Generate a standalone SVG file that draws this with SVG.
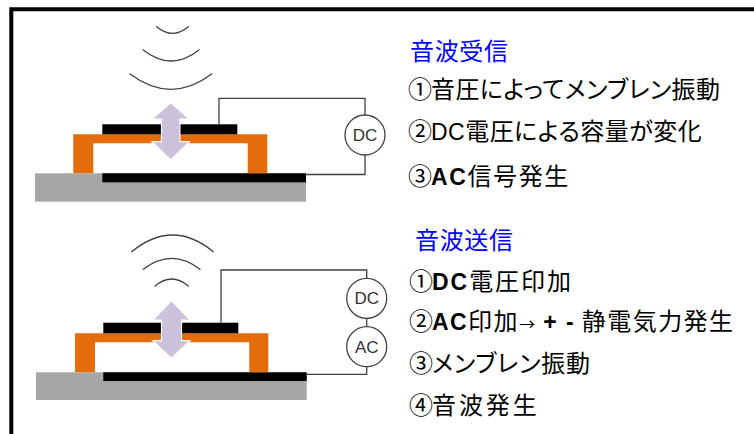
<svg xmlns="http://www.w3.org/2000/svg" width="754" height="434" viewBox="0 0 754 434">
  <style>
    .sub { fill: #a6a6a6; }
    .elec { fill: #000000; }
    .frame { fill: #e46c0a; }
    .arrow { fill: #ccc1da; stroke: #ffffff; stroke-width: 1.2; }
    .wave { fill: none; stroke: #404040; stroke-width: 1.3; stroke-linecap: round; }
    .wire { fill: none; stroke: #404040; stroke-width: 1.3; }
    .src { fill: #ffffff; stroke: #404040; stroke-width: 1.3; }
    .srctxt { font-family: "Liberation Sans", Arial, sans-serif; font-size: 17px; fill: #333333; text-anchor: middle; }
    .title { font-family: "Noto Sans CJK JP", sans-serif; font-size: 24px; fill: #0000ff; }
    .item { font-family: "Noto Sans CJK JP", sans-serif; font-size: 24px; fill: #000000; font-feature-settings: "palt"; }
    .num { font-family: "Noto Sans CJK JP", sans-serif; font-size: 24px; fill: #000000; }
    .lat { font-family: "Liberation Sans", Arial, sans-serif; font-size: 23px; }
    .b { font-weight: bold; }
  </style>

  <!-- outer frame: top and left edges -->
  <g id="frame">
    <path d="M11.3,434 V9.3 H754" fill="none" stroke="#000000" stroke-width="4"/>
  </g>

  <!-- receiving transducer -->
  <g id="device-receive">
    <rect class="sub" x="35" y="173.3" width="271" height="28.4"/>
    <rect class="elec" x="102.3" y="173.3" width="203.7" height="9"/>
    <path class="frame" d="M73.3,134.3 H267.3 V173.3 H247.7 V143.3 H93.3 V173.3 H73.3 Z"/>
    <rect class="elec" x="102.3" y="124.3" width="135" height="10"/>
    <polygon class="arrow" points="170.7,102.7 189.5,119 179.9,119 179.9,141.7 189.5,141.7 170.7,160 151.9,141.7 161.5,141.7 161.5,119 151.9,119"/>
  </g>

  <!-- incoming sound waves -->
  <g id="waves-receive">
    <path class="wave" d="M156.7,26.7 Q172.5,40 188.3,26.7"/>
    <path class="wave" d="M143.3,50 Q171,72 199,50"/>
    <path class="wave" d="M130,74 Q171,104.6 211.7,74"/>
  </g>

  <g id="dc-receive">
    <circle class="src" cx="365" cy="135" r="20"/>
    <text class="srctxt" x="365" y="141">DC</text>
  </g>

  <!-- transmitting transducer -->
  <g id="device-send">
    <rect class="sub" x="36" y="372.3" width="270.7" height="27.7"/>
    <rect class="elec" x="103.3" y="372.3" width="203.4" height="8.7"/>
    <path class="frame" d="M75,333.3 H268.3 V372.3 H249.3 V342.3 H95 V372.3 H75 Z"/>
    <rect class="elec" x="103.3" y="322.7" width="135" height="10.6"/>
    <polygon class="arrow" points="171.5,300.7 190.2,320 181.5,320 181.5,340.7 190.2,340.7 171.5,358.3 152.8,340.7 161.5,340.7 161.5,320 152.8,320"/>
  </g>

  <!-- outgoing sound waves -->
  <g id="waves-send">
    <path class="wave" d="M131.7,251.7 Q172.5,218.3 213.3,251.7"/>
    <path class="wave" d="M143.3,269.3 Q171.7,247.3 200,269.3"/>
    <path class="wave" d="M155,286 Q171.7,272 188.3,286"/>
  </g>

  <g id="dc-send">
    <circle class="src" cx="366.7" cy="298.3" r="20"/>
    <text class="srctxt" x="366.7" y="304.3">DC</text>
  </g>
  <g id="ac-send">
    <circle class="src" cx="366.7" cy="346.7" r="20"/>
    <text class="srctxt" x="366.7" y="352.7">AC</text>
  </g>

  <!-- wiring -->
  <g id="connectors">
    <path class="wire" d="M219,124.3 V98.3 H365 V115"/>
    <path class="wire" d="M365,155 V174.5 H306"/>
    <path class="wire" d="M221,322.7 V270 H366.7 V278.3"/>
    <path class="wire" d="M366.7,318.3 V326.7"/>
    <path class="wire" d="M366.7,366.7 V374.3 H306.7"/>
  </g>

  <!-- explanatory text: circled step numbers and step bodies -->
  <g id="text-receive">
    <text class="title" x="410" y="60" textLength="98">音波受信</text>
    <text class="num" x="408" y="98">①</text>
    <text class="item" x="431" y="98" textLength="289">音圧によってメンブレン振動</text>
    <text class="num" x="408" y="139.5">②</text>
    <text class="item" x="431" y="139.5" textLength="270.7"><tspan class="lat">DC</tspan>電圧による容量が変化</text>
    <text class="num" x="408" y="185">③</text>
    <text class="item" x="431" y="185" textLength="137.3"><tspan class="lat b">AC</tspan>信号発生</text>
  </g>
  <g id="text-send">
    <text class="title" x="415" y="248.5" textLength="98">音波送信</text>
    <text class="num" x="409" y="290">①</text>
    <text class="item" x="432" y="290" textLength="139"><tspan class="lat b">DC</tspan>電圧印加</text>
    <text class="num" x="409" y="330">②</text>
    <text class="item" x="432" y="330" textLength="301"><tspan class="lat b">AC</tspan>印加<tspan font-size="16">→</tspan> <tspan class="lat b">+ -</tspan> 静電気力発生</text>
    <text class="num" x="409" y="371.5">③</text>
    <text class="item" x="432" y="371.5" textLength="158">メンブレン振動</text>
    <text class="num" x="409" y="413.5">④</text>
    <text class="item" x="432" y="413.5" textLength="104.7">音波発生</text>
  </g>
</svg>
